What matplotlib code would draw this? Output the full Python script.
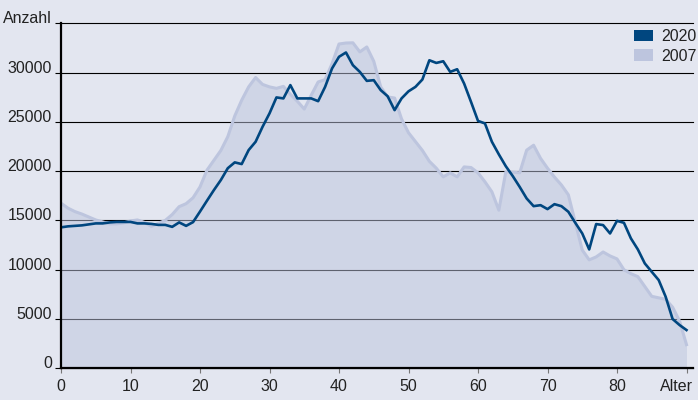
import matplotlib
matplotlib.use("Agg")
import matplotlib.pyplot as plt
from matplotlib.patches import Patch

# ---------------- data ----------------
ages = list(range(0, 91))

pop_2020 = [14300, 14400, 14450, 14500, 14600, 14700, 14700, 14800, 14850, 14850,
            14850, 14700, 14700, 14650, 14550, 14550, 14350, 14800, 14450, 14830,
            15900, 17000, 18080, 19100, 20300, 20890, 20720, 22140, 22980, 24500,
            25860, 27480, 27380, 28730, 27380, 27380, 27380, 27100, 28550, 30420,
            31600, 32040, 30750, 30070, 29160, 29230, 28220, 27600, 26190, 27380,
            28100, 28550, 29300, 31250, 30980, 31150, 30070, 30340, 28890, 27020,
            25100, 24840, 22980, 21700, 20500, 19500, 18400, 17230, 16450, 16550,
            16150, 16650, 16450, 15880, 14760, 13680, 12060, 14630, 14530, 13680,
            14960, 14760, 13180, 12060, 10640, 9790, 8950, 7260, 5000, 4390,
            3880]

pop_2007 = [16750, 16250, 15900, 15650, 15350, 15050, 14850, 14650, 14650, 14750,
            14950, 15050, 14800, 14400, 14700, 15000, 15600, 16400, 16700, 17300,
            18400, 20100, 21100, 22100, 23500, 25600, 27200, 28550, 29500, 28800,
            28550, 28400, 28600, 27800, 27100, 26300, 27700, 29050, 29290, 30900,
            32900, 33000, 33020, 32100, 32600, 31150, 28550, 27530, 27420, 25300,
            23900, 23000, 22100, 21000, 20300, 19420, 19830, 19420, 20430, 20370,
            19830, 18920, 17900, 16040, 19930, 19900, 19830, 22130, 22630, 21300,
            20300, 19400, 18600, 17600, 14800, 12000, 11000, 11300, 11800, 11400,
            11100, 10000, 9600, 9300, 8300, 7300, 7150, 7000, 6200, 4800,
            2400]

y_ticks = [0, 5000, 10000, 15000, 20000, 25000, 30000, 35000]
y_labels = ["0", "5000", "10000", "15000", "20000", "25000", "30000", "Anzahl"]
x_ticks = [0, 10, 20, 30, 40, 50, 60, 70, 80, 90]
x_labels = ["0", "10", "20", "30", "40", "50", "60", "70", "80", ""]
x_title = "Alter"
series_names = ["2020", "2007"]

# ---------------- style ----------------
BG = "#e3e6f0"
C2020 = "#00467f"
C2007 = "#bdc5de"
TXT = "#222222"
FS = 11.5

plt.rcParams["font.family"] = ["Liberation Sans", "DejaVu Sans"]

W, H = 698, 400
fig = plt.figure(figsize=(W / 100, H / 100), dpi=100, facecolor=BG)
x0, x1 = 61, 693
y0, y1 = 368.3, 23.3
ax = fig.add_axes([x0 / W, 1 - y0 / H, (x1 - x0) / W, (y0 - y1) / H])
ax.set_facecolor(BG)

px_per_age = 6.95
ax.set_xlim(0, (x1 - x0) / px_per_age)
ax.set_ylim(y_ticks[0], y_ticks[-1])

# grid
ax.set_axisbelow(True)
ax.grid(axis="y", color="black", linewidth=0.8)
ax.grid(axis="x", visible=False)

# 2007 area + outline
ax.fill_between(ages, pop_2007, 0, color=C2007, alpha=0.5, linewidth=0, zorder=1)
ax.plot(ages, pop_2007, color=C2007, linewidth=2.2, zorder=2, solid_joinstyle="round")
# 2020 line
ax.plot(ages, pop_2020, color=C2020, linewidth=1.9, zorder=3, solid_joinstyle="round")

for gl in ax.get_ygridlines():
    gl.set_clip_on(False)

# spines
for s in ("top", "right"):
    ax.spines[s].set_visible(False)
for s in ("left", "bottom"):
    ax.spines[s].set_color("black")
    ax.spines[s].set_linewidth(1.6)
    ax.spines[s].set_zorder(4)

# ticks
ax.set_yticks(y_ticks, labels=y_labels)
ax.set_xticks(x_ticks, labels=x_labels)
ax.tick_params(axis="y", length=4.3, width=0.8, color="black", pad=2.2,
               labelsize=FS, labelcolor=TXT)
ax.tick_params(axis="x", length=3.6, width=0.8, color="#777777", pad=3.8,
               labelsize=FS, labelcolor=TXT)
for lab in ax.get_yticklabels():
    lab.set_verticalalignment("baseline")

ax.annotate(x_title, xy=(1, 0), xycoords="axes fraction", xytext=(0, -7.4),
            textcoords="offset points", ha="right", va="top", fontsize=FS, color=TXT,
            annotation_clip=False)

# legend
handles = [Patch(facecolor=C2020, edgecolor="none"), Patch(facecolor=C2007, edgecolor="none")]
ax.legend(handles, series_names, loc="upper left",
          bbox_to_anchor=(634 / W, 1 - 29 / H), bbox_transform=fig.transFigure,
          frameon=False, fontsize=FS, handlelength=1.19, handleheight=0.73,
          handletextpad=0.5, borderpad=0, borderaxespad=0, labelspacing=0.3,
          labelcolor=TXT)

fig.savefig("out.png", dpi=100, facecolor=BG)
